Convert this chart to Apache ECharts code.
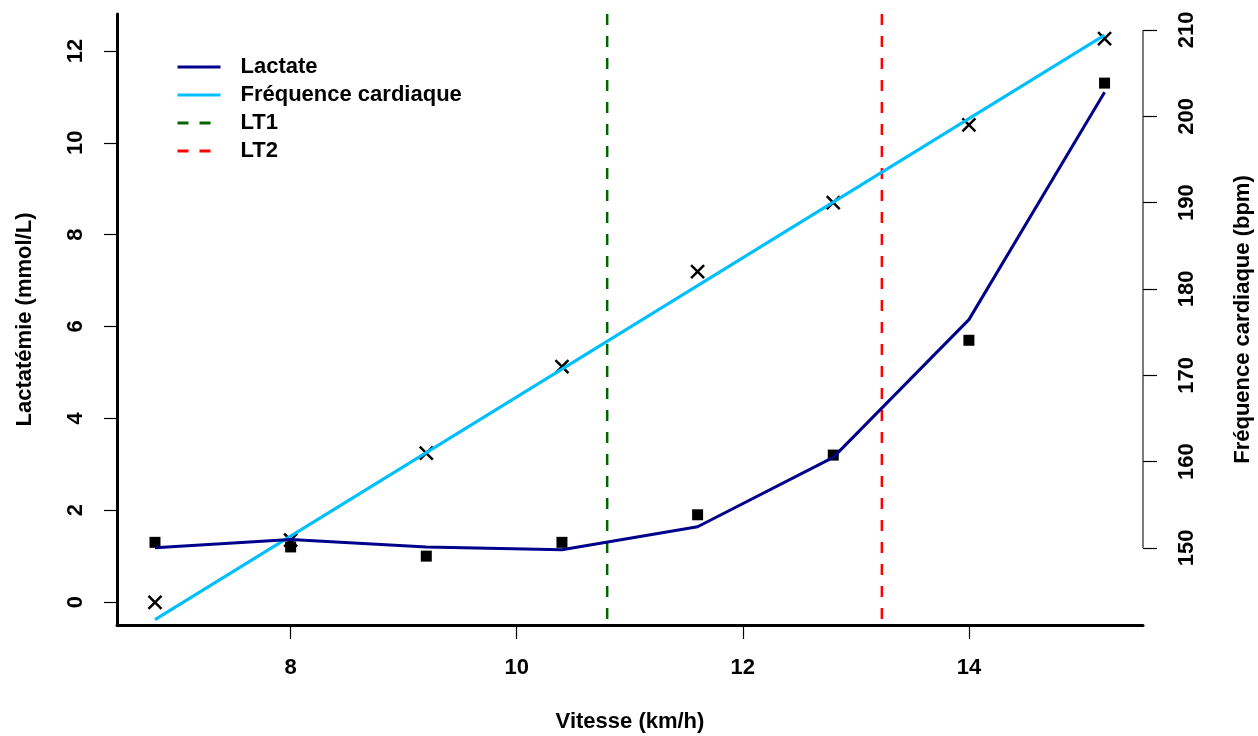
<!DOCTYPE html>
<html>
<head>
<meta charset="utf-8">
<script src="https://cdn.jsdelivr.net/npm/echarts@6/dist/echarts.min.js"></script>
<style>
  html, body { margin: 0; padding: 0; background: #fff; }
  #chart { width: 1258px; height: 736px; }
</style>
</head>
<body>
<div id="chart"></div>
<script>
// vitesses des paliers (km/h)
var vitesse = [6.8, 8.0, 9.2, 10.4, 11.6, 12.8, 14.0, 15.2];
// lactatémie mesurée (mmol/L)
var lactate = [1.3, 1.2, 1.0, 1.3, 1.9, 3.2, 5.7, 11.3];
// courbe ajustée du lactate
var lactateFit = [1.18, 1.36, 1.2, 1.14, 1.64, 3.15, 6.15, 11.1];
// fréquence cardiaque mesurée (bpm)
var fc = [143.7, 150.9, 161.0, 171.0, 182.0, 190.0, 199.0, 209.0];
// droite de régression de la FC (extrémités)
var fcFitX = [6.8, 15.2];
var fcFitY = [141.7, 209.4];
// seuils
var lt1 = 10.8;
var lt2 = 13.23;

var xTicks = [8, 10, 12, 14];
var yTicks = [0, 2, 4, 6, 8, 10, 12];
var y2Ticks = [150, 160, 170, 180, 190, 200, 210];

var xMin = 6.464, xMax = 15.54;
var yMin = -0.5, yMax = 12.805;
var y2Min = 141.08, y2Max = 211.85;

var font = 'Liberation Sans, Arial, sans-serif';

function zip(a, b) {
  return a.map(function (v, i) { return [v, b[i]]; });
}

var myChart = echarts.init(document.getElementById('chart'));

var option = {
  animation: false,
  textStyle: { fontFamily: font },
  grid: { left: 117, right: 115, top: 14, bottom: 111, containLabel: false, outerBoundsMode: 'none' },
  legend: {
    orient: 'vertical',
    left: 171,
    top: 51,
    itemWidth: 43,
    itemHeight: 14,
    itemGap: 6,
    itemStyle: { opacity: 0 },
    lineStyle: { width: 3 },
    textStyle: { fontFamily: font, fontSize: 22, fontWeight: 'bold', color: '#000', padding: [0, 0, 0, 15] },
    data: ['Lactate', 'Fréquence cardiaque', 'LT1', 'LT2']
  },
  xAxis: {
    type: 'value',
    min: xMin,
    max: xMax,
    name: 'Vitesse (km/h)',
    nameLocation: 'middle',
    nameGap: 86,
    nameTextStyle: { fontFamily: font, fontSize: 22, fontWeight: 'bold', color: '#000' },
    splitLine: { show: false },
    axisLine: { show: true, onZero: false, lineStyle: { color: '#000', width: 3 } },
    axisTick: { show: true, length: 14, customValues: xTicks, lineStyle: { color: '#000', width: 1.2 } },
    axisLabel: { customValues: xTicks, margin: 32, fontSize: 22, fontWeight: 'bold', color: '#000', fontFamily: font }
  },
  yAxis: [
    {
      type: 'value',
      position: 'left',
      min: yMin,
      max: yMax,
      name: 'Lactatémie (mmol/L)',
      nameLocation: 'middle',
      nameRotate: 90,
      nameGap: 81,
      nameTextStyle: { fontFamily: font, fontSize: 22, fontWeight: 'bold', color: '#000' },
      splitLine: { show: false },
      axisLine: { show: true, onZero: false, lineStyle: { color: '#000', width: 3 } },
      axisTick: { show: true, length: 13, customValues: yTicks, lineStyle: { color: '#000', width: 1.2 } },
      axisLabel: { customValues: yTicks, rotate: 90, margin: 30, fontSize: 22, fontWeight: 'bold', color: '#000', fontFamily: font }
    },
    {
      type: 'value',
      position: 'right',
      min: y2Min,
      max: y2Max,
      name: 'Fréquence cardiaque (bpm)',
      nameLocation: 'middle',
      nameRotate: 90,
      nameGap: 89,
      nameTextStyle: { fontFamily: font, fontSize: 22, fontWeight: 'bold', color: '#000' },
      splitLine: { show: false },
      axisLine: { show: false, onZero: false },
      axisTick: { show: true, length: 14, customValues: y2Ticks, lineStyle: { color: '#000', width: 1.2 } },
      axisLabel: { customValues: y2Ticks, rotate: 90, margin: 33, fontSize: 22, fontWeight: 'bold', color: '#000', fontFamily: font }
    }
  ],
  series: [
    {
      // ligne de l'axe droit, de 150 à 210 seulement
      name: 'axe2',
      type: 'line',
      yAxisIndex: 1,
      silent: true,
      symbol: 'none',
      lineStyle: { color: '#222', width: 1.2 },
      data: [[xMax, y2Ticks[0]], [xMax, y2Ticks[y2Ticks.length - 1]]]
    },
    {
      name: 'LT1',
      type: 'line',
      symbol: 'none',
      lineStyle: { color: '#006400', width: 2.5, type: [11, 11] },
      itemStyle: { color: '#006400' },
      data: [[lt1, yMax], [lt1, yMin]]
    },
    {
      name: 'LT2',
      type: 'line',
      symbol: 'none',
      lineStyle: { color: '#ff0000', width: 2.5, type: [11, 11] },
      itemStyle: { color: '#ff0000' },
      data: [[lt2, yMax], [lt2, yMin]]
    },
    {
      name: 'Fréquence cardiaque',
      type: 'line',
      yAxisIndex: 1,
      symbol: 'none',
      lineStyle: { color: '#00bfff', width: 3 },
      itemStyle: { color: '#00bfff' },
      data: zip(fcFitX, fcFitY)
    },
    {
      name: 'Lactate',
      type: 'line',
      symbol: 'none',
      lineStyle: { color: '#00008b', width: 3 },
      itemStyle: { color: '#00008b' },
      data: zip(vitesse, lactateFit)
    },
    {
      name: 'lactate mesuré',
      type: 'scatter',
      symbol: 'rect',
      symbolSize: 11,
      itemStyle: { color: '#000', opacity: 1 },
      data: zip(vitesse, lactate)
    },
    {
      name: 'FC mesurée',
      type: 'scatter',
      yAxisIndex: 1,
      symbol: 'path://M0,0L10,10M10,0L0,10',
      symbolSize: 13,
      itemStyle: { color: 'none', borderColor: '#000', borderWidth: 2.5, opacity: 1 },
      data: zip(vitesse, fc)
    }
  ]
};

myChart.setOption(option);
</script>
</body>
</html>
